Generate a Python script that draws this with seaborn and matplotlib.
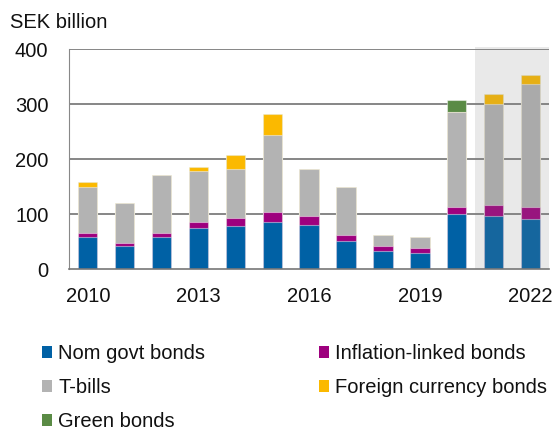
import matplotlib
matplotlib.use("Agg")
import matplotlib.pyplot as plt
from matplotlib.patches import Rectangle, Patch
import seaborn as sns
import pandas as pd
import numpy as np

years = [2010, 2011, 2012, 2013, 2014, 2015, 2016, 2017, 2018, 2019, 2020, 2021, 2022]
nom_govt = [58, 41, 59, 74, 78, 86, 81, 51, 32, 30, 100, 96, 91]
infl_linked = [7, 6, 6, 11, 15, 17, 16, 11, 9, 8, 13, 21, 21]
t_bills = [85, 73, 106, 94, 89, 141, 85, 88, 20, 20, 172, 184, 224]
fx_bonds = [8, 0, 0, 6, 25, 38, 0, 0, 0, 0, 0, 18, 17]
green_bonds = [0, 0, 0, 0, 0, 0, 0, 0, 0, 0, 22, 0, 0]

tick_years = ["2010", "2013", "2016", "2019", "2022"]
y_ticks = [0, 100, 200, 300, 400]

series_names = ["Nom govt bonds", "Inflation-linked bonds", "T-bills",
                "Foreign currency bonds", "Green bonds"]
series_vals = [nom_govt, infl_linked, t_bills, fx_bonds, green_bonds]
colors = ["#0061A5", "#9E007E", "#B3B3B3", "#FBB900", "#5A8B45"]

sns.set_theme(style="white")
plt.rcParams["font.family"] = ["Liberation Sans", "DejaVu Sans"]

df = pd.DataFrame({"year": [str(y) for y in years]})
cum = np.zeros(len(years))
cums = []
for vals in series_vals:
    cum = cum + np.array(vals, dtype=float)
    cums.append(cum.copy())

fig = plt.figure(figsize=(5.56, 4.32), dpi=100)
ax = fig.add_axes([0.1247, 0.3773, 0.9874 - 0.1247, 0.8859 - 0.3773])

# draw cumulative totals from top layer down
for i in range(len(series_vals) - 1, -1, -1):
    d = df.copy()
    d["value"] = cums[i]
    sns.barplot(data=d, x="year", y="value", color=colors[i], saturation=1,
                width=0.525, ax=ax, edgecolor=(1, 1, 1, 0.45), linewidth=0.8,
                zorder=2)

ax.set_xlim(-0.5, 12.5)
ax.set_ylim(0, 400)
ax.set_yticks(y_ticks)
ax.set_yticklabels([str(v) for v in y_ticks], fontsize=14.5, color="#111111")
ax.set_xticks([years.index(int(t)) for t in tick_years])
ax.set_xticklabels(tick_years, fontsize=14.5, color="#111111")
ax.tick_params(axis="y", length=0, pad=15)
ax.tick_params(axis="x", length=0, pad=13)
ax.set_xlabel("")
ax.set_ylabel("")

for v in y_ticks[1:]:
    ax.axhline(v, color="#666666", lw=1.1, zorder=1)

for s in ["top", "right"]:
    ax.spines[s].set_visible(False)
ax.spines["left"].set_color("#888888")
ax.spines["left"].set_linewidth(0.8)
ax.spines["bottom"].set_color("#777777")
ax.spines["bottom"].set_linewidth(1.2)

# forecast shading
shade = Rectangle((10.5, 0), 2.0, 404, facecolor="#7f7f7f", alpha=0.17,
                  edgecolor="none", zorder=3, clip_on=False)
ax.add_patch(shade)

fig.text(10 / 556, 1 - 22 / 432, "SEK billion", fontsize=14.5, va="center",
         ha="left", color="#111111")

order = [0, 2, 4, 1, 3]
handles = [Patch(facecolor=colors[i], edgecolor="none") for i in order]
labels = [series_names[i] for i in order]
leg = fig.legend(handles, labels, ncol=2, loc="upper left",
                 bbox_to_anchor=(42 / 556, 1 - 344 / 432), frameon=False,
                 fontsize=14.5, handlelength=0.5, handleheight=0.5,
                 handletextpad=0.3, columnspacing=5.65, labelspacing=0.75,
                 borderaxespad=0, borderpad=0)
for t in leg.get_texts():
    t.set_color("#111111")

fig.savefig("out.png", dpi=100)
